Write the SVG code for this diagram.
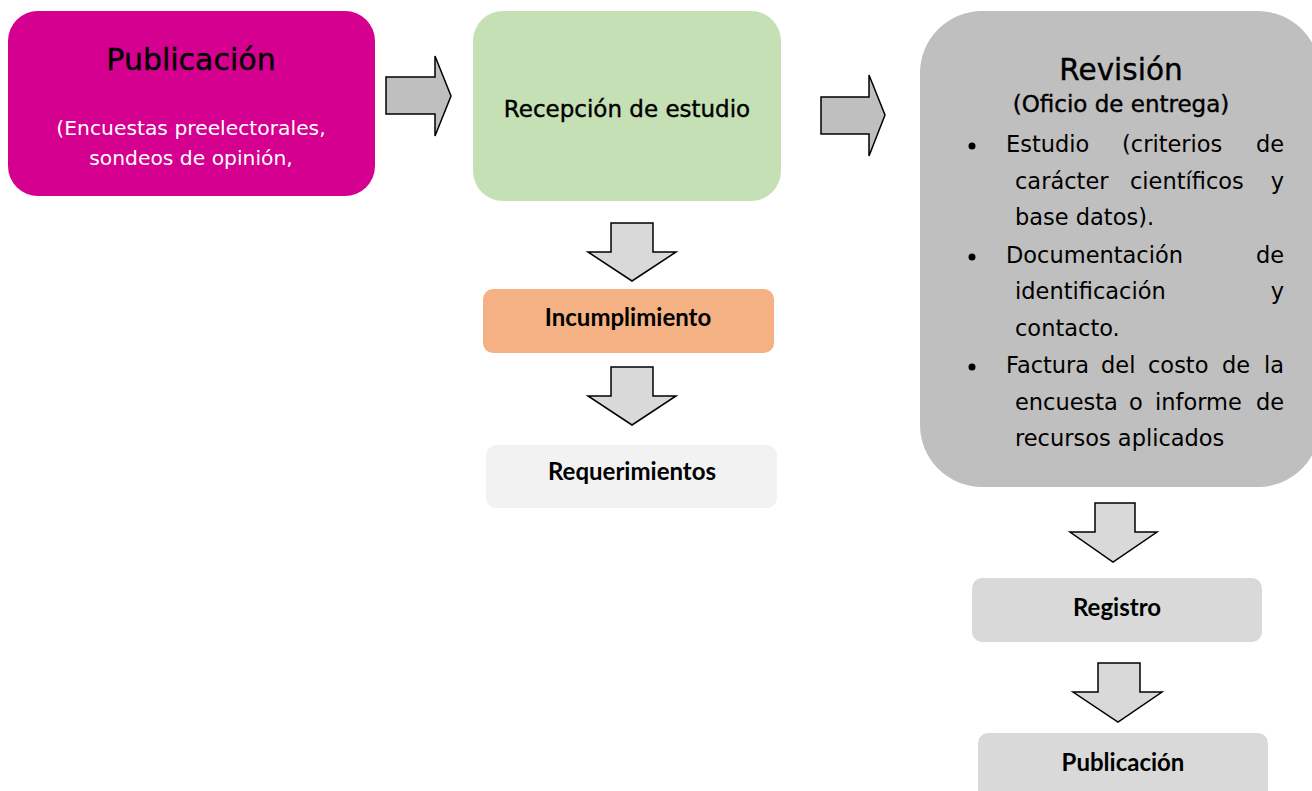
<svg xmlns="http://www.w3.org/2000/svg" width="1312" height="791" viewBox="0 0 1312 791">
<style>
.t{font-family:"DejaVu Sans","Open Sans",sans-serif;}
.h{stroke:#000;stroke-width:0.4;}
.c{font-family:Lato,"Open Sans",sans-serif;font-weight:bold;font-size:24px;fill:#000;text-anchor:middle;}
.arr{stroke:#000;stroke-width:1.5;stroke-linejoin:miter;}
.rv{font-family:"DejaVu Sans","Open Sans",sans-serif;font-size:22.5px;fill:#000;}
</style>
<rect width="1312" height="791" fill="#fff"/>
<g id="publicacion1">
<rect x="8" y="11" width="367" height="185" rx="30" fill="#D5008F"/>
<text class="t h" x="191" y="70" font-size="30" text-anchor="middle" fill="#000">Publicación</text>
<text class="t" x="191" y="135" font-size="20.3" text-anchor="middle" fill="#fff">(Encuestas preelectorales,</text>
<text class="t" x="191" y="165" font-size="20.3" text-anchor="middle" fill="#fff">sondeos de opinión,</text>
</g>
<g id="recepcion">
<rect x="473" y="11" width="308" height="190" rx="30" fill="#C5E0B4"/>
<text class="t h" x="627" y="117" font-size="23" text-anchor="middle" fill="#000">Recepción de estudio</text>
</g>
<g id="revision">
<rect x="920" y="11" width="400" height="476" rx="62" fill="#BFBFBF"/>
<text class="t h" x="1121" y="80" font-size="29.5" text-anchor="middle" fill="#000">Revisión</text>
<text class="t h" x="1121" y="112" font-size="23" text-anchor="middle" fill="#000">(Oficio de entrega)</text>
<g class="rv">
<circle cx="972" cy="146" r="3.5" fill="#000"/>
<circle cx="972" cy="257" r="3.5" fill="#000"/>
<circle cx="972" cy="367" r="3.5" fill="#000"/>
<text x="1006" y="152">Estudio</text><text x="1122" y="152">(criterios</text><text x="1284" y="152" text-anchor="end">de</text>
<text x="1015" y="189">carácter</text><text x="1130" y="189">científicos</text><text x="1284" y="189" text-anchor="end">y</text>
<text x="1015" y="225">base datos).</text>
<text x="1006" y="263">Documentación</text><text x="1284" y="263" text-anchor="end">de</text>
<text x="1015" y="299">identificación</text><text x="1284" y="299" text-anchor="end">y</text>
<text x="1015" y="336">contacto.</text>
<text x="1006" y="373">Factura</text><text x="1101" y="373">del</text><text x="1148" y="373">costo</text><text x="1222" y="373">de</text><text x="1284" y="373" text-anchor="end">la</text>
<text x="1015" y="410">encuesta</text><text x="1129" y="410">o</text><text x="1155" y="410">informe</text><text x="1284" y="410" text-anchor="end">de</text>
<text x="1015" y="446">recursos aplicados</text>
</g>
</g>
<g id="incumplimiento">
<rect x="483" y="289" width="291" height="64" rx="10" fill="#F4B183"/>
<text class="c" x="628" y="326" font-size="24.9">Incumplimiento</text>
</g>
<g id="requerimientos">
<rect x="486" y="445" width="291" height="63" rx="10" fill="#F2F2F2"/>
<text class="c" x="632" y="480" font-size="19.9">Requerimientos</text>
</g>
<g id="registro">
<rect x="972" y="578" width="290" height="64" rx="10" fill="#D9D9D9"/>
<text class="c" x="1117" y="616" font-size="23.5">Registro</text>
</g>
<g id="publicacion2">
<rect x="978" y="733" width="290" height="70" rx="10" fill="#D9D9D9"/>
<text class="c" x="1123" y="771" font-size="23.5">Publicación</text>
</g>
<g id="connectors">
<polygon class="arr" fill="#BFBFBF" points="386,77 435,77 435,56 451,96 435,136 435,114 386,114"/>
<polygon class="arr" fill="#BFBFBF" points="821,97 869,97 869,75 885,115 869,156 869,134 821,134"/>
<polygon class="arr" fill="#D9D9D9" points="611,223 653,223 653,252 676,252 632,281 588,252 611,252"/>
<polygon class="arr" fill="#D9D9D9" points="611,367 653,367 653,396 676,396 632,425 588,396 611,396"/>
<polygon class="arr" fill="#D9D9D9" points="1095,503 1135,503 1135,532 1157,532 1113,562 1070,532 1095,532"/>
<polygon class="arr" fill="#D9D9D9" points="1098,663 1140,663 1140,692 1162,692 1118,722 1073,692 1098,692"/>
</g>
</svg>
